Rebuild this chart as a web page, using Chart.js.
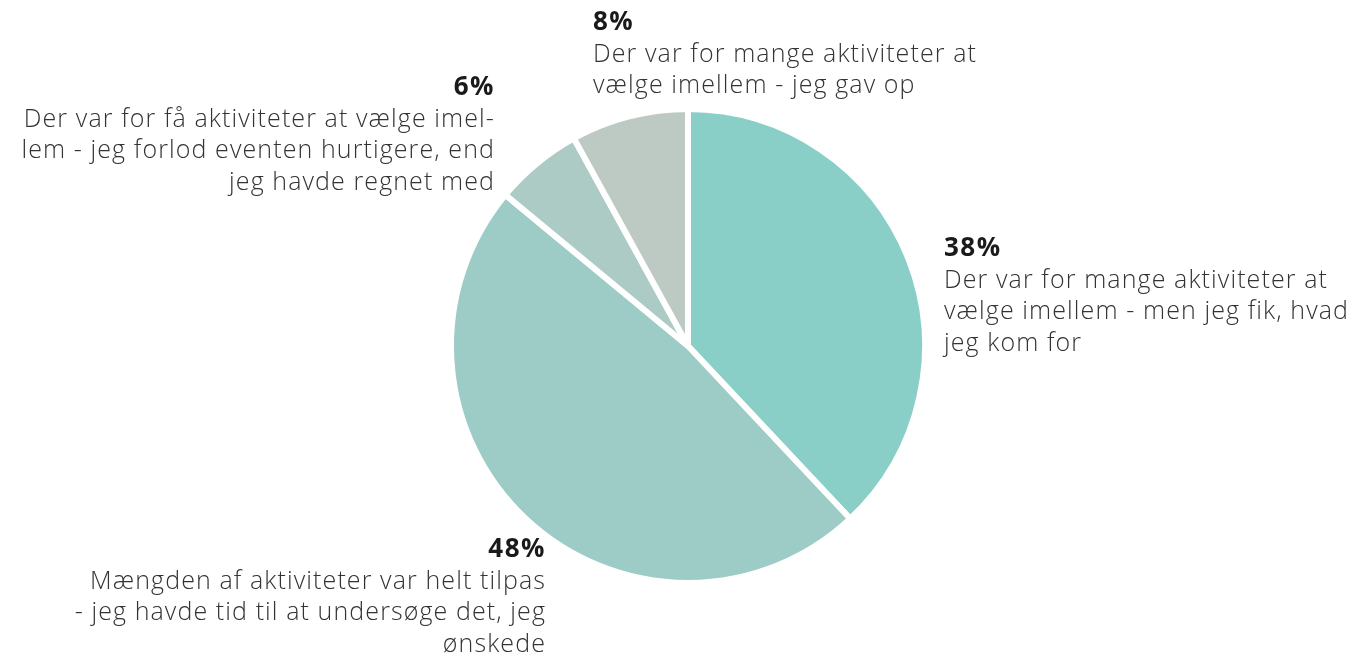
<!DOCTYPE html>
<html>
<head>
<meta charset="utf-8">
<script src="https://cdn.jsdelivr.net/npm/chart.js@4/dist/chart.umd.min.js"></script>
<style>
    html, body { margin: 0; padding: 0; background: #fff; }
    #wrap { position: relative; width: 1362px; height: 656px; }
</style>
</head>
<body>
<div id="wrap"><canvas id="chart"></canvas></div>
<script>
// answers, clockwise from 12 o'clock
const answers = [
    'Der var for mange aktiviteter at vælge imellem - men jeg fik, hvad jeg kom for',
    'Mængden af aktiviteter var helt tilpas - jeg havde tid til at undersøge det, jeg ønskede',
    'Der var for få aktiviteter at vælge imellem - jeg forlod eventen hurtigere, end jeg havde regnet med',
    'Der var for mange aktiviteter at vælge imellem - jeg gav op'
];
const shares = [38, 48, 6, 8];
const sliceColors = ['#8acfc7', '#9dcbc5', '#adcbc5', '#bdcac4'];

// wrapped the same way as the picture
const labelLines = [
    ['Der var for mange aktiviteter at', 'vælge imellem - men jeg fik, hvad', 'jeg kom for'],
    ['Mængden af aktiviteter var helt tilpas', '- jeg havde tid til at undersøge det, jeg', 'ønskede'],
    ['Der var for få aktiviteter at vælge imel-', 'lem - jeg forlod eventen hurtigere, end', 'jeg havde regnet med'],
    ['Der var for mange aktiviteter at', 'vælge imellem - jeg gav op']
];

const FONT = '"Open Sans", "Noto Sans", sans-serif';

// label anchors relative to the pie centre (x of aligned edge, baseline of the % line)
const anchors = [
    {dx: 256, dy: -90, align: 'left'},
    {dx: -142, dy: 211, align: 'right'},
    {dx: -193, dy: -251, align: 'right'},
    {dx: -95, dy: -316, align: 'left'}
];

const sliceLabels = {
    id: 'sliceLabels',
    afterDraw(chart) {
        const ctx = chart.ctx;
        const arc = chart.getDatasetMeta(0).data[0];
        const cx = arc.x, cy = arc.y;
        ctx.save();
        ctx.textBaseline = 'alphabetic';
        shares.forEach((v, i) => {
            const a = anchors[i];
            const x = cx + a.dx;
            let y = cy + a.dy;
            ctx.textAlign = a.align;
            ctx.fillStyle = '#1a1a1a';
            ctx.font = `bold 26px ${FONT}`;
            ctx.letterSpacing = '1.5px';
            ctx.fillText(v + '%', x, y);
            ctx.fillStyle = '#333';
            ctx.font = `300 25px ${FONT}`;
            ctx.letterSpacing = '1.1px';
            labelLines[i].forEach((line) => {
                y += 31.5;
                ctx.fillText(line, x, y);
            });
        });
        ctx.restore();
    }
};

new Chart(document.getElementById('chart'), {
    type: 'pie',
    data: {
        labels: answers,
        datasets: [{
            data: shares,
            backgroundColor: sliceColors,
            borderColor: '#ffffff',
            borderWidth: 6,
            hoverOffset: 0
        }]
    },
    options: {
        responsive: true,
        maintainAspectRatio: false,
        animation: false,
        layout: {padding: {top: 106, bottom: 70, left: 14, right: 0}},
        plugins: {
            legend: {display: false},
            tooltip: {enabled: false}
        }
    },
    plugins: [sliceLabels]
});
</script>
</body>
</html>
